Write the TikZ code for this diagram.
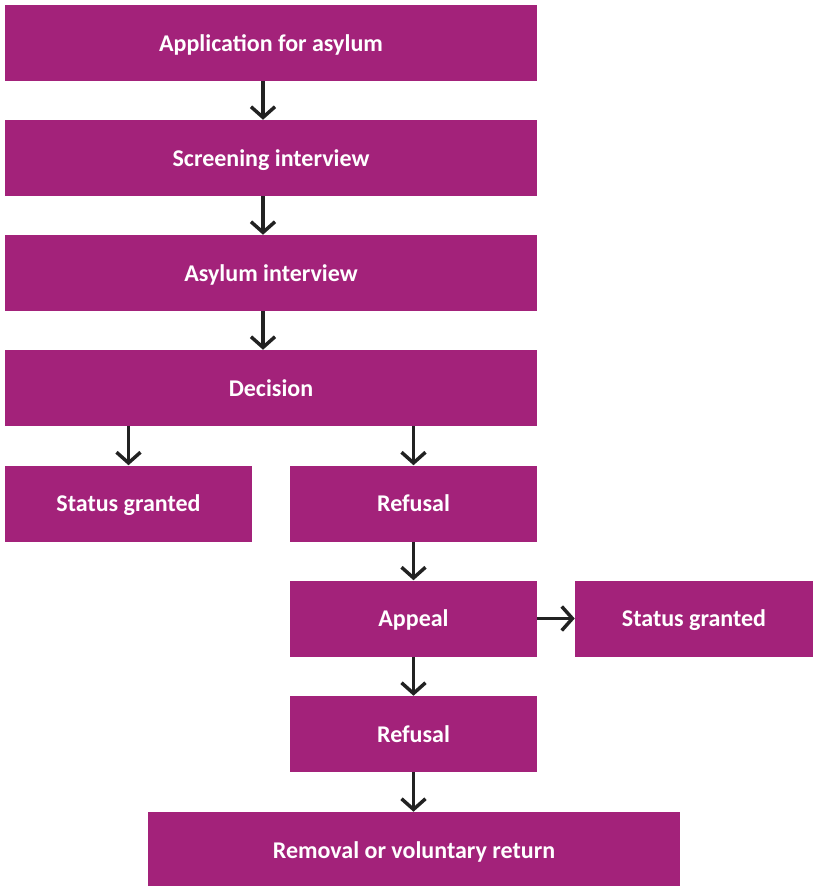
\documentclass[tikz,border=0pt]{standalone}
\usepackage{fontspec}
\setmainfont{Carlito}
\usepackage{xcolor}
\usepackage{tikz}
\usetikzlibrary{positioning, arrows.meta}

\definecolor{boxpurple}{HTML}{A3227A}
\definecolor{arrowgrey}{HTML}{222222}

\begin{document}
\begin{tikzpicture}[x=0.75pt, y=-0.75pt]
					\tikzstyle{box}=[rectangle, fill=boxpurple, text=white, inner sep=0pt,
						font=\fontsize{18}{21}\selectfont\bfseries, text depth=0pt,
						minimum height=57pt]
					\tikzstyle{wide}=[box, minimum width=399pt]
					\tikzstyle{half}=[box, minimum width=185.25pt]
					\tikzstyle{flow}=[draw=arrowgrey, line width=2.6pt,
						-{Straight Barb[length=8pt, width=18pt]}]
					\useasboundingbox (0,0) rectangle (814,886);
					\fill[white] (0,0) rectangle (814,886);
					\node[wide](app) at (271,43){Application for asylum};
					\node[wide](screen) at (271,158){Screening interview};
					\node[wide](interview) at (271,273){Asylum interview};
					\node[wide](decision) at (271,388){Decision};
					\node[half](granted1) at (128.5,503.5){Status granted};
					\node[half](refusal1) at (413.5,503.5){Refusal};
					\node[half](appeal) at (413.5,618.5){Appeal};
					\node[box, minimum width=178.5pt](granted2) at (694,618.5){Status granted};
					\node[half](refusal2) at (413.5,734){Refusal};
					\node[wide](removal) at (414,850){Removal or voluntary return};
					\path
						([xshift=-6pt]app.south) edge[flow] ([xshift=-6pt]screen.north)
						([xshift=-6pt]screen.south) edge[flow] ([xshift=-6pt]interview.north)
						([xshift=-6pt]interview.south) edge[flow] ([xshift=-6pt]decision.north)
						(decision.south -| granted1) edge[flow] (granted1.north)
						(decision.south -| refusal1) edge[flow] (refusal1.north)
						(refusal1.south) edge[flow] (appeal.north)
						(appeal.east) edge[flow] (granted2.west)
						(appeal.south) edge[flow] (refusal2.north)
						(refusal2.south) edge[flow] (removal.north -| refusal2);
				\end{tikzpicture}
\end{document}
